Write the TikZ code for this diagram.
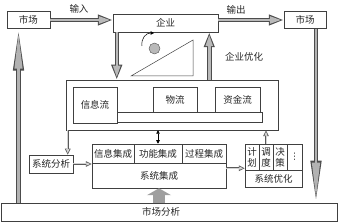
\documentclass[tikz,border=0pt]{standalone}
\usepackage{fontspec}
\setmainfont{Noto Sans CJK SC}
\newfontfamily\dejavu{DejaVu Sans}
\usetikzlibrary{arrows.meta,calc}
\begin{document}
\begin{tikzpicture}[x=1pt,y=-1pt,
  box/.style={draw=black!75, line width=0.5pt, inner sep=0pt, fill=white,
    font=\fontsize{9.5}{11}\selectfont, text=black!85, align=center},
  lbl/.style={inner sep=0pt, font=\fontsize{9.5}{11}\selectfont, text=black!85},
  harr/.style={line width=4.5pt, draw=black!70, -{Triangle[length=15pt,width=10pt]},
    postaction={draw=gray!55, line width=2.5pt, shorten >=2.5pt, -{Triangle[length=11.5pt,width=7pt]}}},
  longarr/.style={line width=4.5pt, draw=black!70, -{Triangle[length=42pt,width=10pt]},
    postaction={draw=gray!60, line width=2.5pt, shorten >=4pt, -{Triangle[length=36pt,width=7.5pt]}}},
  sarr/.style={line width=2.4pt, draw=black!65, -{Triangle[length=6pt,width=5.5pt]},
    postaction={draw=gray!35, line width=1pt, shorten >=1.5pt, -{Triangle[length=4pt,width=3pt]}}},
  fatarr/.style={line width=12pt, draw=gray!75, -{Triangle[length=7pt,width=24pt]}},
  thinarr/.style={line width=0.6pt, draw=black, {Triangle[length=3.5pt,width=3.5pt]}-{Triangle[length=3.5pt,width=3.5pt]}},
  curvarr/.style={line width=0.5pt, draw=black, -{Triangle[length=3.5pt,width=3.5pt]}}
]
\useasboundingbox (0,0) rectangle (338,222);

% top row
\node[box, minimum width=43pt, minimum height=17pt] (m1) at (28.5,20) {市场};
\node[box, minimum width=105pt, minimum height=18pt] (qy) at (165.5,23) {企业};
\node[box, minimum width=42pt, minimum height=17pt] (m2) at (305,20) {市场};
\node[lbl] (in) at (79,9) {输入};
\node[lbl] (out) at (236,10) {输出};
\node[lbl] (opt) at (244,57) {企业优化};

% bottom box
\node[box, minimum width=336pt, minimum height=18pt] (ms) at (169,212) {};
\node[lbl] (mstext) at (161,212) {市场分析};

% middle box
\node[box, minimum width=212pt, minimum height=50pt] (mid) at (172,105) {};
\node[box, minimum width=145pt, minimum height=10pt] (bar) at (189.5,117) {};
\node[box, minimum width=44pt, minimum height=36pt] (xxl) at (95,105) {信息流};
\node[box, minimum width=44pt, minimum height=25pt] (wl) at (175,99.5) {物流};
\node[box, minimum width=45pt, minimum height=25pt] (zjl) at (237.5,99.5) {资金流};

% triangle, ball, curved arrow
\draw[line width=0.5pt, draw=black!75] (131,76) -- (193,40) -- (193,76) -- cycle;
\node[circle, draw=black!70, fill=gray!55, minimum size=11pt, inner sep=0pt] (ball) at (154.5,48.5) {};
\coordinate (ca) at (142,46);
\coordinate (cb) at (154,33);
\draw[curvarr] (ca) .. controls (141,38) and (146,33) .. (cb);

% integration block
\node[box, minimum width=42pt, minimum height=19pt] (c1) at (113,153.5) {信息集成};
\node[box, minimum width=48pt, minimum height=19pt] (c2) at (158,153.5) {功能集成};
\node[box, minimum width=44pt, minimum height=19pt] (c3) at (204,153.5) {过程集成};
\node[box, minimum width=134pt, minimum height=25pt] (xtjc) at (159,175.5) {系统集成};

% optimisation block
\node[box, minimum width=14pt, minimum height=26pt] (d1) at (252,157) {计\\划};
\node[box, minimum width=14pt, minimum height=26pt] (d2) at (266,157) {调\\度};
\node[box, minimum width=14pt, minimum height=26pt] (d3) at (280,157) {决\\策};
\node[box, minimum width=15pt, minimum height=26pt, font=\dejavu\fontsize{9}{11}\selectfont] (d4) at (294.5,157) {⋮};
\node[box, minimum width=57pt, minimum height=17pt] (yh) at (273.5,178.5) {系统优化};

% system analysis
\node[box, minimum width=44pt, minimum height=18pt] (xtfx) at (51,164) {系统分析};

% arrows
\draw[harr] (m1.east) -- (m1.east -| qy.west);
\draw[harr] (qy.east |- m2.west) -- (m2.west);
\draw[harr] ([xshift=4pt]qy.south west) -- ([xshift=4pt]qy.south west |- mid.north);
\draw[harr] ([xshift=-9pt]qy.south east |- mid.north) -- ([xshift=-9pt]qy.south east);
\draw[longarr] ([xshift=-10pt]m1.south |- ms.north) -- ([xshift=-10pt]m1.south);
\draw[longarr] ([xshift=11pt]m2.south) -- ([xshift=11pt]m2.south |- ms.north);
\draw[fatarr] (xtjc.south |- ms.north) -- (xtjc.south);
\draw[thinarr] (c2.north |- mid.south) -- (c2.north);
\draw[sarr] ([xshift=2pt]mid.south west) -- ([xshift=2pt]mid.south west |- xtfx.north);
\draw[sarr] (xtfx.east) -- (xtfx.east -| xtjc.west);
\draw[sarr] ([yshift=-5pt]c3.south east) -- ([yshift=-5pt]c3.south east -| yh.west);
\draw[sarr] (d2.north) -- (d2.north |- mid.south);
\end{tikzpicture}
\end{document}
